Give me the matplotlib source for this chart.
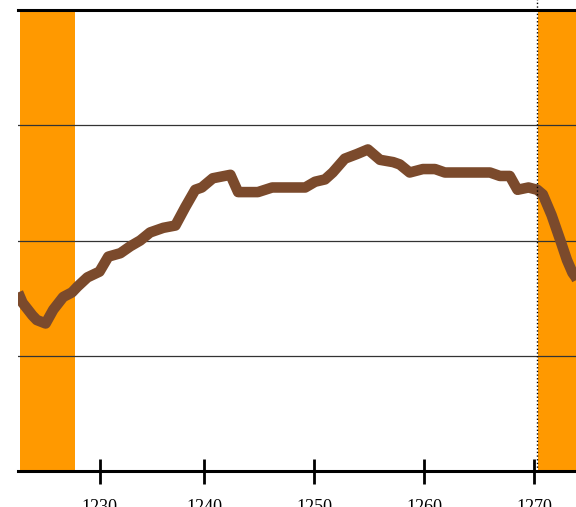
import matplotlib.pyplot as plt
from matplotlib.transforms import blended_transform_factory

# line data
xs = [1223.1, 1223.5, 1224.4, 1224.8, 1225.6, 1226.3, 1227.2, 1228.0, 1228.5, 1229.4,
      1230.5, 1231.3, 1232.4, 1233.3, 1234.2, 1235.1, 1236.3, 1237.4, 1238.3, 1239.2,
      1239.8, 1240.8, 1242.4, 1243.1, 1244.9, 1246.2, 1249.2, 1250.1, 1251.0, 1251.7,
      1252.8, 1253.9, 1254.9, 1256.0, 1257.2, 1257.8, 1258.7, 1259.9, 1261.0, 1261.9,
      1266.0, 1266.9, 1267.8, 1268.5, 1269.5, 1270.3, 1270.8, 1271.6, 1272.4, 1273.0,
      1273.5, 1273.8, 1274.5]
ys = [1.55, 1.46, 1.35, 1.31, 1.28, 1.40, 1.51, 1.55, 1.60, 1.68,
      1.73, 1.86, 1.89, 1.95, 2.00, 2.07, 2.11, 2.13, 2.29, 2.44,
      2.46, 2.54, 2.57, 2.42, 2.42, 2.46, 2.46, 2.51, 2.53, 2.59,
      2.71, 2.75, 2.79, 2.70, 2.68, 2.66, 2.59, 2.62, 2.62, 2.59,
      2.59, 2.56, 2.56, 2.44, 2.46, 2.44, 2.40, 2.22, 2.00, 1.83,
      1.72, 1.68, 1.55]

# shaded spans
spans = [(1223.3, 1228.3), (1270.4, 1280.0)]
marker_x = 1270.3

tick_pos = [1230.5, 1240, 1250, 1260, 1270]
tick_labels = ['1230', '1240', '1250', '1260', '1270']
grid_y = [1, 2, 3]

fig = plt.figure(figsize=(5.76, 5.07), dpi=100)
ax = fig.add_axes([18 / 576, 36 / 507, 558 / 576, 461 / 507])

for a, b in spans:
    ax.axvspan(a, b, color='#FF9900', lw=0, zorder=1)

for g in grid_y:
    ax.axhline(g, color='#333333', lw=0.9, zorder=2)

ax.plot(xs, ys, color='#7B4A2C', lw=7.6, solid_joinstyle='round',
        solid_capstyle='butt', zorder=3)

trans = blended_transform_factory(ax.transData, ax.transAxes)
ax.plot([marker_x, marker_x], [0, 1.025], color='black', lw=1, ls=':',
        transform=trans, clip_on=False, zorder=4)

ax.set_xlim(1223.09, 1273.82)
ax.set_ylim(0, 4)
ax.set_yticks([])
ax.set_xticks(tick_pos)
ax.set_xticklabels(tick_labels, fontfamily='Liberation Serif', fontsize=13)
ax.tick_params(axis='x', direction='inout', length=18, width=2.0, pad=11, color='black')

for s in ['left', 'right']:
    ax.spines[s].set_visible(False)
for s in ['top', 'bottom']:
    ax.spines[s].set_linewidth(2.2)
    ax.spines[s].set_zorder(5)

fig.savefig('out.png', dpi=100)
